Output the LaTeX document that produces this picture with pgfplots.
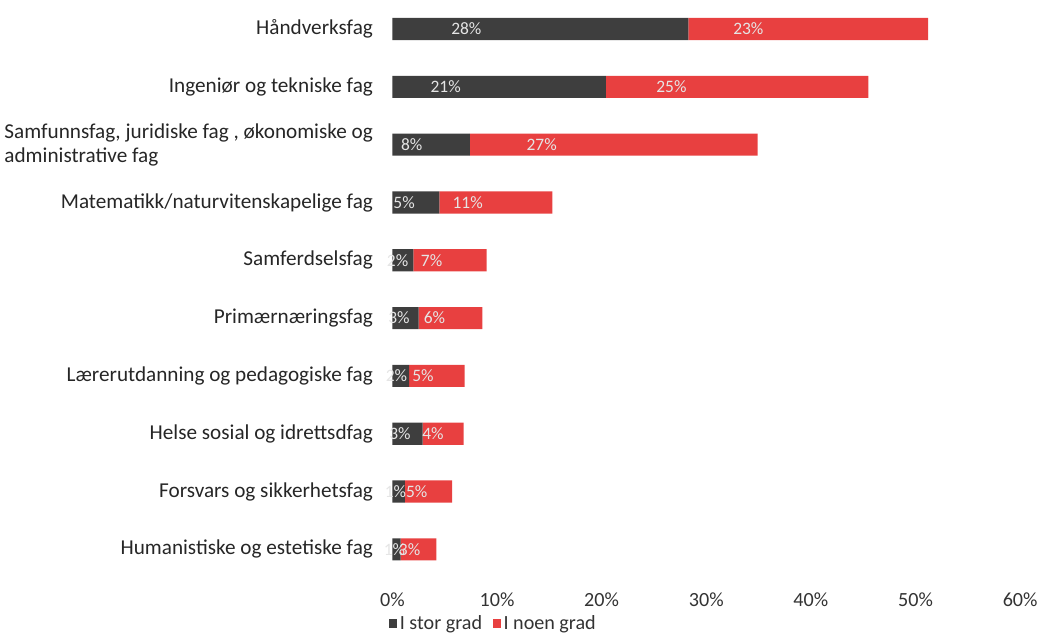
\documentclass[border=0pt]{standalone}
\usepackage{fontspec}
\setmainfont{Carlito}
\usepackage{pgfplots}
\usepackage{pgfplotstable}
\pgfplotsset{compat=1.18}
\definecolor{darkbar}{RGB}{62,62,62}
\definecolor{redbar}{RGB}{232,64,64}
\pgfplotstableread{
y a b la lb
0 28.3 22.9 28 23
1 20.4 25.1 21 25
2 7.4 27.5 8 27
3 4.5 10.8 5 11
4 2.0 7.0 2 7
5 2.5 6.1 3 6
6 1.6 5.3 2 5
7 2.9 3.9 3 4
8 1.2 4.5 1 5
9 0.8 3.4 1 3
}\data
\begin{document}
\begin{tikzpicture}
\begin{axis}[
  xbar stacked,
  scale only axis,
  width=468pt, height=431pt,
  xmin=0, xmax=60,
  ymin=-0.5, ymax=9.5,
  y dir=reverse,
  bar width=16.5pt,
  axis line style={draw=none},
  major tick length=0pt,
  xtick={0,10,...,60},
  xticklabel={\pgfmathprintnumber{\tick}\%},
  /pgf/number format/assume math mode=true,
  ytick={0,...,9},
  yticklabels={H\r{a}ndverksfag, Ingeni\o r og tekniske fag, {Samfunnsfag, juridiske fag , \o konomiske og\\administrative fag}, Matematikk/naturvitenskapelige fag, Samferdselsfag, Prim\ae rn\ae ringsfag, L\ae rerutdanning og pedagogiske fag, Helse sosial og idrettsdfag, Forsvars og sikkerhetsfag, Humanistiske og estetiske fag},
  yticklabel style={align=left, font=\fontsize{15.8}{18}\selectfont, text=black!85, xshift=-11pt},
  xticklabel style={font=\fontsize{15}{17}\selectfont, text=black!80, yshift=-7pt},
  legend style={at={(-0.012,-0.078)}, anchor=west, draw=none, legend columns=2, font=\fontsize{15}{17}\selectfont, text=black!80, /tikz/every even column/.append style={column sep=6pt}},
  legend image code/.code={\fill[#1] (0pt,-3.5pt) rectangle (6pt,3.5pt);},
  point meta=explicit symbolic,
  nodes near coords={\pgfplotspointmeta\%},
  every node near coord/.append style={font=\fontsize{13}{15}\selectfont, text=white!90!black, anchor=center, inner sep=0pt},
]
\addplot[fill=darkbar, draw=none,
  visualization depends on={\thisrow{a} \as \rawval},
  every node near coord/.append style={xshift=-\rawval*1.95pt}]
  table[x=a, y=y, meta=la] {\data};
\addlegendentry{I stor grad}
\addplot[fill=redbar, draw=none,
  visualization depends on={\thisrow{b} \as \rawval},
  every node near coord/.append style={xshift=-\rawval*1.95pt}]
  table[x=b, y=y, meta=lb] {\data};
\addlegendentry{I noen grad}
\end{axis}
\end{tikzpicture}
\end{document}
